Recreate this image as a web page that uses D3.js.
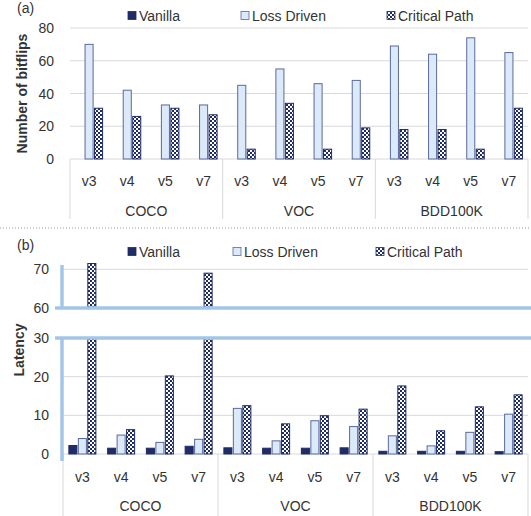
<!DOCTYPE html>
<html>
<head>
<meta charset="utf-8">
<script src="https://cdn.jsdelivr.net/npm/d3@7"></script>
<style>
  body { margin: 0; background: #fff; }
  text { font-family: "Liberation Sans", Arial, sans-serif; fill: #333; }
</style>
</head>
<body>
<div id="chart"></div>
<script>
// values
const groups = ["COCO", "VOC", "BDD100K"];
const versions = ["v3", "v4", "v5", "v7"];
const seriesNames = ["Vanilla", "Loss Driven", "Critical Path"];

const bitflipsVanilla = [0, 0, 0, 0, 0, 0, 0, 0, 0, 0, 0, 0];
const bitflipsLoss = [70, 42, 33, 33, 45, 55, 46, 48, 69, 64, 74, 65];
const bitflipsCritical = [31, 26, 31, 27, 6, 34, 6, 19, 18, 18, 6, 31];

const latencyVanilla = [2.2, 1.5, 1.5, 2.0, 1.6, 1.5, 1.5, 1.6, 0.7, 0.7, 0.7, 0.6];
const latencyLoss = [4.0, 4.9, 3.0, 3.8, 11.8, 3.4, 8.6, 7.1, 4.7, 2.1, 5.6, 10.3];
const latencyCritical = [71.5, 6.3, 20.2, 69, 12.5, 7.8, 9.9, 11.6, 17.6, 6.0, 12.2, 15.3];

const bitflipTicks = [0, 20, 40, 60, 80];
const latencyLowTicks = [0, 10, 20, 30];
const latencyHighTicks = [60, 70];

const width = 531, height = 516;
const navy = "#1f2c66";
const lossFill = "#dbe9f8", lossStroke = "#5a6a9c";
const breakBlue = "#a3c6e8";
const grid = "#d9d9d9";

const svg = d3.select("#chart").append("svg")
  .attr("width", width)
  .attr("height", height);

// checker pattern for critical path
const defs = svg.append("defs");
const pat = defs.append("pattern")
  .attr("id", "checker")
  .attr("patternUnits", "userSpaceOnUse")
  .attr("width", 4).attr("height", 4);
pat.append("rect").attr("width", 4).attr("height", 4).attr("fill", navy);
pat.append("rect").attr("width", 2).attr("height", 2).attr("fill", "#fff");
pat.append("rect").attr("x", 2).attr("y", 2).attr("width", 2).attr("height", 2).attr("fill", "#fff");

const cats = [];
groups.forEach(g => versions.forEach(v => cats.push(g + "|" + v)));

function fillOf(i) { return i === 0 ? navy : i === 1 ? lossFill : "url(#checker)"; }
function strokeOf(i) { return i === 1 ? lossStroke : navy; }

function legend(y, xs, labels) {
  const lg = svg.append("g");
  labels.forEach((name, i) => {
    lg.append("rect")
      .attr("x", xs[i]).attr("y", y - 4.5)
      .attr("width", 8).attr("height", 8)
      .attr("fill", fillOf(i))
      .attr("stroke", strokeOf(i)).attr("stroke-width", 0.8);
    lg.append("text")
      .attr("x", xs[i] + 11).attr("y", y + 5)
      .attr("font-size", "14px")
      .text(name);
  });
}

function categoryAxis(x, yTop, yLab, yGrp, yBottom) {
  const g = svg.append("g");
  cats.forEach(c => {
    g.append("text")
      .attr("x", x(c) + x.bandwidth() / 2).attr("y", yLab)
      .attr("text-anchor", "middle").attr("font-size", "14px")
      .text(c.split("|")[1]);
  });
  groups.forEach((grp, gi) => {
    const first = x(grp + "|" + versions[0]);
    const last = x(grp + "|" + versions[versions.length - 1]) + x.bandwidth();
    g.append("text")
      .attr("x", (first + last) / 2).attr("y", yGrp)
      .attr("text-anchor", "middle").attr("font-size", "14px")
      .text(grp);
    g.append("line")
      .attr("x1", first).attr("x2", first)
      .attr("y1", yTop).attr("y2", yBottom)
      .attr("stroke", grid).attr("stroke-width", 1);
    if (gi === groups.length - 1) {
      g.append("line")
        .attr("x1", last).attr("x2", last)
        .attr("y1", yTop).attr("y2", yBottom)
        .attr("stroke", grid).attr("stroke-width", 1);
    }
  });
}

function drawBars(x, inner, y, values, lo, hi) {
  const g = svg.append("g");
  values.forEach((vals, si) => {
    vals.forEach((v, ci) => {
      if (v <= lo) return;
      const top = Math.min(v, hi);
      g.append("rect")
        .attr("x", x(cats[ci]) + inner(seriesNames[si]))
        .attr("width", inner.bandwidth())
        .attr("y", y(top))
        .attr("height", y(lo) - y(top))
        .attr("fill", fillOf(si))
        .attr("stroke", strokeOf(si))
        .attr("stroke-width", 1);
    });
  });
}

function innerScale(x) {
  const c = x.bandwidth() / 2;
  return d3.scaleBand().domain(seriesNames).range([c - 13.5, c + 13.5]).paddingInner(0.15);
}

// ---------- panel (a) ----------
svg.append("text").attr("x", 17).attr("y", 13).attr("font-size", "14px").text("(a)");
legend(16, [128, 241, 387], ["Vanilla", "Loss Driven", "Critical Path"]);

const xa = d3.scaleBand().domain(cats).range([70, 528]);
const ya = d3.scaleLinear().domain([0, 80]).range([159, 28]);

bitflipTicks.forEach(t => {
  svg.append("line")
    .attr("x1", 70).attr("x2", 528)
    .attr("y1", ya(t)).attr("y2", ya(t))
    .attr("stroke", grid).attr("stroke-width", 1);
  svg.append("text")
    .attr("x", 54).attr("y", ya(t)).attr("dy", "0.36em")
    .attr("text-anchor", "end").attr("font-size", "14px")
    .text(t);
});

drawBars(xa, innerScale(xa), ya, [bitflipsVanilla, bitflipsLoss, bitflipsCritical], 0, 80);
categoryAxis(xa, 159, 186, 216, 219);

svg.append("text")
  .attr("transform", `translate(27,${ya(40)}) rotate(-90)`)
  .attr("text-anchor", "middle").attr("font-size", "14px").attr("font-weight", "bold")
  .text("Number of bitflips");

// dotted separator
svg.append("line")
  .attr("x1", 0).attr("x2", width).attr("y1", 228).attr("y2", 228)
  .attr("stroke", "#999").attr("stroke-width", 1).attr("stroke-dasharray", "1,2");

// ---------- panel (b) ----------
svg.append("text").attr("x", 17).attr("y", 250).attr("font-size", "14px").text("(b)");
legend(252, [128, 233, 376], ["Vanilla", "Loss  Driven", "Critical Path"]);

const xb = d3.scaleBand().domain(cats).range([63, 528]);
const yLow = d3.scaleLinear().domain([0, 30]).range([454, 338]);
const yHigh = d3.scaleLinear().domain([60, 71.5]).range([308, 263.5]);

[0, 10, 20].forEach(t => {
  svg.append("line")
    .attr("x1", 63).attr("x2", 528)
    .attr("y1", yLow(t)).attr("y2", yLow(t))
    .attr("stroke", grid).attr("stroke-width", 1);
});
svg.append("line")
  .attr("x1", 63).attr("x2", 528)
  .attr("y1", yHigh(70)).attr("y2", yHigh(70))
  .attr("stroke", grid).attr("stroke-width", 1);

latencyLowTicks.forEach(t => {
  svg.append("text")
    .attr("x", 49).attr("y", yLow(t)).attr("dy", "0.36em")
    .attr("text-anchor", "end").attr("font-size", "14px")
    .text(t);
});
latencyHighTicks.forEach(t => {
  svg.append("text")
    .attr("x", 49).attr("y", yHigh(t)).attr("dy", "0.36em")
    .attr("text-anchor", "end").attr("font-size", "14px")
    .text(t);
});

const latValues = [latencyVanilla, latencyLoss, latencyCritical];
drawBars(xb, innerScale(xb), yLow, latValues, 0, 30);
drawBars(xb, innerScale(xb), yHigh, latValues, 60, 71.5);
categoryAxis(xb, 454, 482, 511, 516);

// broken axis marks
svg.append("line")
  .attr("x1", 62).attr("x2", 62).attr("y1", 265).attr("y2", yHigh(60))
  .attr("stroke", breakBlue).attr("stroke-width", 3.5);
svg.append("line")
  .attr("x1", 62).attr("x2", 62).attr("y1", yLow(30)).attr("y2", 461)
  .attr("stroke", breakBlue).attr("stroke-width", 3.5);
[yHigh(60), yLow(30)].forEach(yy => {
  svg.append("line")
    .attr("x1", 55).attr("x2", width).attr("y1", yy).attr("y2", yy)
    .attr("stroke", breakBlue).attr("stroke-width", 3.5);
});

svg.append("text")
  .attr("transform", `translate(24,350) rotate(-90)`)
  .attr("text-anchor", "middle").attr("font-size", "14px").attr("font-weight", "bold")
  .text("Latency");
</script>
</body>
</html>
